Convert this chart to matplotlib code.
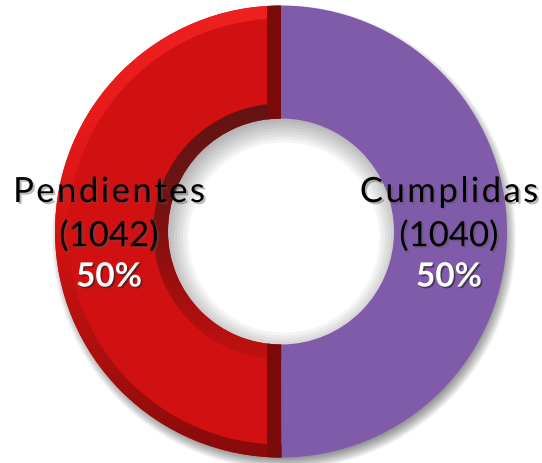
import numpy as np
import matplotlib
matplotlib.use("Agg")
import matplotlib.pyplot as plt
import matplotlib.patheffects as pe
from matplotlib.colors import LinearSegmentedColormap
from matplotlib.patches import Rectangle
from matplotlib.font_manager import FontProperties

# ---- data ----
categories = ["Cumplidas", "Pendientes"]
values = [1040, 1042]
percent_labels = ["50%", "50%"]
colors = ["#7F5BAA", "#D11111"]

W, H = 542, 464
fig = plt.figure(figsize=(W / 100, H / 100), dpi=100)
ax = fig.add_axes([0, 0, 1, 1])

cx, cy = 281, 231.5
R = 226
ring = 113

common = dict(startangle=90, counterclock=False, center=(cx, cy))

# drop shadow (soft) under the donut
for s in np.linspace(-6, 6, 13):
    ax.pie(values, radius=R + s, colors=["#000000", "#000000"],
           wedgeprops=dict(width=ring - 2 * s, linewidth=0, alpha=0.04),
           center=(cx + 3, cy - 6), startangle=90, counterclock=False)

# main donut
wedges, _ = ax.pie(values, radius=R, colors=colors,
                   wedgeprops=dict(width=ring, linewidth=0), **common)
red = wedges[1]

# outer rim band of the red slice (light at top, dark at bottom)
rim, _ = ax.pie(values, radius=R, colors=["none", "none"],
                wedgeprops=dict(width=13, linewidth=0), **common)
cmap_rim = LinearSegmentedColormap.from_list(
    "rim", ["#860B0B", "#B00F0F", "#D31313", "#E81A1A", "#EE2020"])
grad = np.linspace(0, 1, 256).reshape(-1, 1)
im = ax.imshow(grad, cmap=cmap_rim, aspect="auto", origin="lower",
               extent=(cx - R, cx + R, cy - R, cy + R), zorder=1.5)
im.set_clip_path(rim[1])

# inner edge band (dark at top, lighter at bottom)
inner, _ = ax.pie(values, radius=ring + 15, colors=["none", "none"],
                  wedgeprops=dict(width=15, linewidth=0), **common)
cmap_in = LinearSegmentedColormap.from_list(
    "inner", ["#C21111", "#9A0E0E", "#6E1313", "#641414"])
im2 = ax.imshow(grad, cmap=cmap_in, aspect="auto", origin="lower",
                extent=(cx - R, cx + R, cy - ring - 15, cy + ring + 15),
                zorder=1.6)
im2.set_clip_path(inner[1])

# straight edge bevel of the red slice
bev = Rectangle((cx - 14, cy - R - 5), 14, 2 * R + 10,
                facecolor="#7A0B0B", edgecolor="none", zorder=1.7)
ax.add_patch(bev)
bev.set_clip_path(red)

ax.set_xlim(0, W)
ax.set_ylim(0, H)
ax.set_aspect("equal")
ax.axis("off")

# ---- labels ----
font = "Lato"
shadow_dark = [pe.withSimplePatchShadow(offset=(1.5, -1.5),
                                        shadow_rgbFace="#555555", alpha=0.4)]
shadow_white = [pe.withSimplePatchShadow(offset=(1.2, -1.2),
                                         shadow_rgbFace="#222222", alpha=0.6)]

renderer = fig.canvas.get_renderer()


def tracked_text(x, y, s, size, tracking, **kw):
    """Draw text centred at (x, y) with extra letter spacing (pixels)."""
    fp = FontProperties(family=font, size=size)
    prefix_w = [0.0]
    for k in range(1, len(s) + 1):
        w, _, _ = renderer.get_text_width_height_descent(s[:k], fp, ismath=False)
        prefix_w.append(w)
    total = prefix_w[-1] + tracking * (len(s) - 1)
    x0 = x - total / 2
    for k, ch in enumerate(s):
        ax.text(x0 + prefix_w[k] + tracking * k, y, ch, ha="left",
                va="center", fontproperties=fp, **kw)


label_x = [449, 109]
for i, (cat, val, pct) in enumerate(zip(categories, values, percent_labels)):
    x = label_x[i]
    tracked_text(x, H - 193, cat, 25, 2.4, color="black",
                 path_effects=shadow_dark, zorder=5)
    ax.text(x, H - 237, f"({val})", ha="center", va="center", fontsize=25,
            family=font, color="black", path_effects=shadow_dark, zorder=5)
    ax.text(x, H - 278, pct, ha="center", va="center", fontsize=24,
            family=font, weight="bold", color="white",
            path_effects=shadow_white, zorder=5)

fig.savefig("out.png", dpi=100)
